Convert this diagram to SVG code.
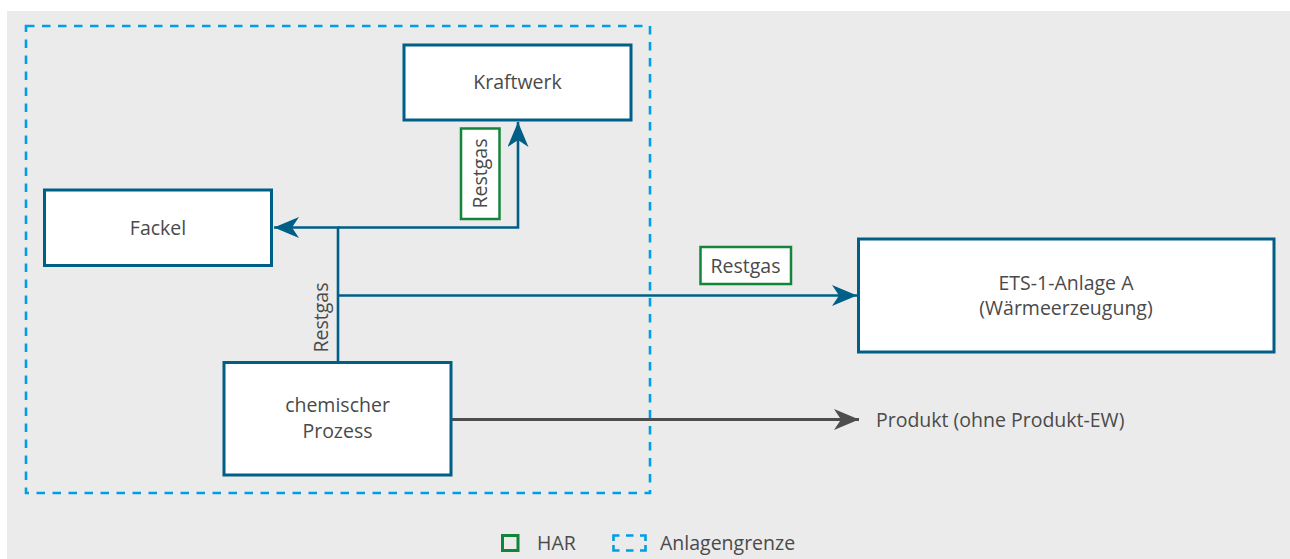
<svg xmlns="http://www.w3.org/2000/svg" width="1290" height="559" viewBox="0 0 1290 559">
<defs>
<style>
.bg{fill:#ebebeb}
.box{fill:#fff;stroke:#005f87;stroke-width:3}
.har{fill:#fff;stroke:#13853a;stroke-width:2.5}
.t{font-family:"Open Sans","Liberation Sans",sans-serif;font-size:19.5px;fill:#4a4a4a}
.c{text-anchor:middle}
.flow{fill:none;stroke:#005f87;stroke-width:2.6}
.prod{fill:none;stroke:#4d4d4d;stroke-width:3}
.bound{fill:none;stroke:#009fe3;stroke-width:2.6;stroke-dasharray:8.5 7.5}
</style>
<marker id="ab" markerUnits="userSpaceOnUse" markerWidth="26" markerHeight="22" refX="25" refY="10.5" orient="auto">
<path d="M0,0 L25,10.5 L0,21 L7,10.5 Z" fill="#005f87"/>
</marker>
<marker id="ag" markerUnits="userSpaceOnUse" markerWidth="26" markerHeight="22" refX="25" refY="10.5" orient="auto">
<path d="M0,0 L25,10.5 L0,21 L7,10.5 Z" fill="#4d4d4d"/>
</marker>
</defs>
<rect class="bg" x="7" y="11" width="1283" height="548"/>
<rect id="anlagengrenze" class="bound" x="26" y="26" width="624" height="467"/>

<g id="connectors">
<path class="flow" d="M338,362 V227.5 H274" marker-end="url(#ab)"/>
<path class="flow" d="M338,227.5 H518 V122" marker-end="url(#ab)"/>
<path class="flow" d="M338,295.5 H857" marker-end="url(#ab)"/>
<path class="prod" d="M452,419.5 H859" marker-end="url(#ag)"/>
</g>

<g id="kraftwerk">
<rect class="box" x="404" y="45" width="227" height="75"/>
<text class="t c" x="517.5" y="89">Kraftwerk</text>
</g>
<g id="fackel">
<rect class="box" x="44.5" y="190" width="227" height="75.5"/>
<text class="t c" x="158" y="234.5">Fackel</text>
</g>
<g id="chemischer-prozess">
<rect class="box" x="224" y="362.5" width="227" height="112.5"/>
<text class="t c" x="337.5" y="411.5">chemischer</text>
<text class="t c" x="337.5" y="437.5">Prozess</text>
</g>
<g id="ets-anlage">
<rect class="box" x="858.5" y="239" width="415.5" height="113"/>
<text class="t c" x="1066" y="289.5">ETS-1-Anlage A</text>
<text class="t c" x="1066" y="314.5">(Wärmeerzeugung)</text>
</g>
<g id="produkt">
<text class="t" x="876" y="426.5">Produkt (ohne Produkt-EW)</text>
</g>

<g id="label-restgas-kraftwerk">
<rect class="har" x="461" y="128.5" width="38.5" height="90.5"/>
<text class="t c" transform="translate(487,173.5) rotate(-90)">Restgas</text>
</g>
<g id="label-restgas-vertical">
<text class="t c" transform="translate(327.5,317.5) rotate(-90)">Restgas</text>
</g>
<g id="label-restgas-ets">
<rect class="har" x="700.5" y="247" width="90.5" height="37"/>
<text class="t c" x="745.5" y="272.5">Restgas</text>
</g>

<g id="legend">
<rect x="502.5" y="535.5" width="15.5" height="15" fill="none" stroke="#13853a" stroke-width="3"/>
<text class="t" x="537" y="550">HAR</text>
<path d="M613.5,541 V535.5 H619.5 M626,535.5 H633.5 M640,535.5 H645.5 V541 M645.5,545 V550.5 H640 M633.5,550.5 H626 M619.5,550.5 H613.5 V545" fill="none" stroke="#009fe3" stroke-width="2.6"/>
<text class="t" x="660" y="550">Anlagengrenze</text>
</g>
</svg>
